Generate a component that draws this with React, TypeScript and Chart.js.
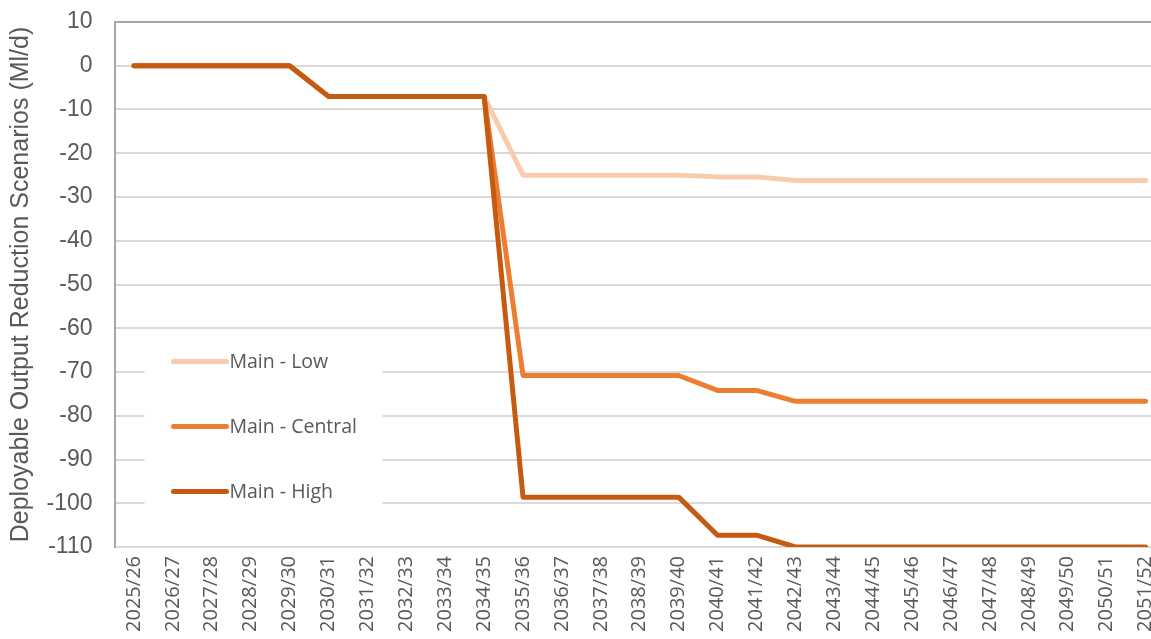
import React, { useEffect, useRef } from "react";
import { Chart, registerables } from "chart.js";

Chart.register(...registerables);

const categories = [
  "2025/26", "2026/27", "2027/28", "2028/29", "2029/30", "2030/31", "2031/32",
  "2032/33", "2033/34", "2034/35", "2035/36", "2036/37", "2037/38", "2038/39",
  "2039/40", "2040/41", "2041/42", "2042/43", "2043/44", "2044/45", "2045/46",
  "2046/47", "2047/48", "2048/49", "2049/50", "2050/51", "2051/52",
];

const mainLow = [
  0, 0, 0, 0, 0, -7, -7, -7, -7, -7, -25, -25, -25, -25, -25, -25.4, -25.4,
  -26.2, -26.2, -26.2, -26.2, -26.2, -26.2, -26.2, -26.2, -26.2, -26.2,
];

const mainCentral = [
  0, 0, 0, 0, 0, -7, -7, -7, -7, -7, -70.8, -70.8, -70.8, -70.8, -70.8, -74.2, -74.2,
  -76.7, -76.7, -76.7, -76.7, -76.7, -76.7, -76.7, -76.7, -76.7, -76.7,
];

const mainHigh = [
  0, 0, 0, 0, 0, -7, -7, -7, -7, -7, -98.6, -98.6, -98.6, -98.6, -98.6, -107.3, -107.3,
  -110, -110, -110, -110, -110, -110, -110, -110, -110, -110,
];

const seriesNames = ["Main - Low", "Main - Central", "Main - High"];
const seriesColors = ["#F8CBAD", "#ED7D31", "#C55A11"];

const yMin = -110;
const yMax = 10;
const yStep = 10;
const yTitle = "Deployable Output Reduction Scenarios (Ml/d)";

const TEXT = "#595959";
const ARIAL = "'Liberation Sans', Arial, sans-serif";
const SANS = "'Open Sans', 'Noto Sans', sans-serif";

const insetLegend = {
  id: "insetLegend",
  beforeDatasetsDraw(chart: any) {
    const ctx = chart.ctx;
    const area = chart.chartArea;
    const boxX = area.left + 30;
    const boxY = 331;
    const boxW = 238;
    const boxH = 214;
    ctx.save();
    ctx.fillStyle = "#ffffff";
    ctx.fillRect(boxX, boxY, boxW, boxH);
    const ds = chart.data.datasets;
    const order = [0, 1, 2];
    order.forEach((di, i) => {
      const d = ds[di];
      const y = boxY + 30.5 + i * 65;
      ctx.beginPath();
      ctx.strokeStyle = d.borderColor;
      ctx.lineWidth = 5;
      ctx.lineCap = "round";
      ctx.moveTo(boxX + 29, y);
      ctx.lineTo(boxX + 82, y);
      ctx.stroke();
      ctx.fillStyle = TEXT;
      ctx.font = "19.5px " + SANS;
      ctx.textBaseline = "middle";
      ctx.textAlign = "left";
      ctx.fillText(d.label, boxX + 85, y + 1);
    });
    ctx.restore();
  },
};

export default function App() {
  const ref = useRef<HTMLCanvasElement | null>(null);

  useEffect(() => {
    if (!ref.current) return;
    const seriesValues = [mainLow, mainCentral, mainHigh];
    const chart = new Chart(ref.current, {
      type: "line",
      data: {
        labels: categories,
        datasets: seriesValues.map((vals, i) => ({
          label: seriesNames[i],
          data: vals,
          borderColor: seriesColors[i],
          backgroundColor: seriesColors[i],
          borderWidth: 5,
          pointRadius: 0,
          pointHoverRadius: 0,
          tension: 0,
          fill: false,
          borderJoinStyle: "round",
          borderCapStyle: "round",
          order: 3 - i,
        })),
      },
      options: {
        animation: false,
        responsive: false,
        devicePixelRatio: 1,
        layout: { padding: { left: 0, right: 0, top: 22, bottom: 0 } },
        plugins: {
          legend: { display: false },
          tooltip: { enabled: false },
        },
        scales: {
          x: {
            offset: true,
            grid: { display: false, drawTicks: false },
            border: { display: false },
            ticks: {
              color: TEXT,
              font: { family: SANS, size: 20 },
              minRotation: 90,
              maxRotation: 90,
              autoSkip: false,
              padding: 9,
            },
            afterFit: (s: any) => {
              s.height = 92;
              s.paddingLeft = 0;
              s.paddingRight = 0;
            },
          },
          y: {
            min: yMin,
            max: yMax,
            grid: {
              color: (c: any) => (c.tick && c.tick.value === yMax ? "#a6a6a6" : "#d9d9d9"),
              lineWidth: 2,
              drawTicks: false,
            },
            border: { display: true, color: "#a6a6a6", width: 2 },
            ticks: {
              stepSize: yStep,
              color: TEXT,
              font: { family: ARIAL, size: 23 },
              padding: 22,
            },
            title: {
              display: true,
              text: yTitle,
              color: TEXT,
              font: { family: ARIAL, size: 25, weight: "normal" },
              padding: { top: 6, bottom: 0 },
            },
            afterFit: (s: any) => {
              s.width = 114.5;
              s.paddingTop = 0;
              s.paddingBottom = 0;
            },
          },
        },
      },
      plugins: [insetLegend],
    } as any);
    return () => chart.destroy();
  }, []);

  return (
    <div
      style={{
        position: "absolute",
        left: 0,
        top: 0,
        width: 1151,
        height: 639,
        overflow: "hidden",
        background: "#ffffff",
      }}
    >
      <canvas ref={ref} width={1165} height={639} style={{ display: "block" }} />
    </div>
  );
}
